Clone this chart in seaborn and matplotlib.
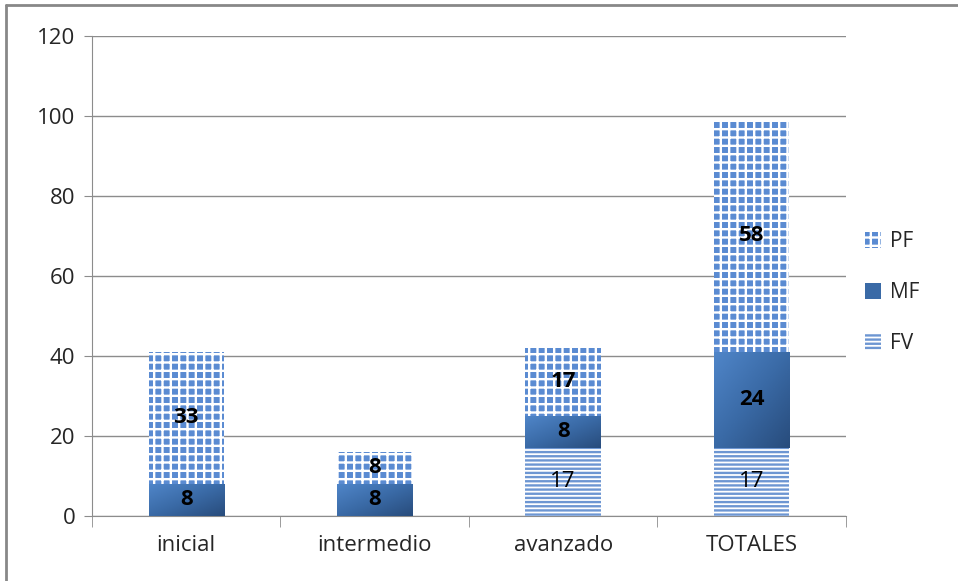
import numpy as np
import pandas as pd
import seaborn as sns
import matplotlib.pyplot as plt
from matplotlib.patches import Patch
from matplotlib.lines import Line2D
from matplotlib.colors import LinearSegmentedColormap

# data
niveles = ['inicial', 'intermedio', 'avanzado', 'TOTALES']
fv = [0, 0, 17, 17]
mf = [8, 8, 8, 24]
pf = [33, 8, 17, 58]

df = pd.DataFrame({'nivel': niveles, 'FV': fv, 'MF': mf, 'PF': pf})
df['FV_MF'] = df['FV'] + df['MF']
df['total'] = df['FV_MF'] + df['PF']

sns.set_style('white')
plt.rcParams['font.family'] = ['Open Sans', 'DejaVu Sans']
plt.rcParams['hatch.linewidth'] = 1.7

fig = plt.figure(figsize=(9.58, 5.81), dpi=100)
ax = fig.add_axes([0.096, 0.112, 0.787, 0.826])

blue_pf = '#5a8bd2'
blue_mf = '#3a6aa6'
blue_fv = '#6d96d2'

# stacked bars drawn as overlapping cumulative totals
sns.barplot(data=df, x='nivel', y='total', color=blue_pf, saturation=1, width=0.4,
            hatch='++', edgecolor='white', linewidth=0, ax=ax, zorder=2)
sns.barplot(data=df, x='nivel', y='FV_MF', color=blue_mf, saturation=1, width=0.4,
            linewidth=0, ax=ax, zorder=3)
sns.barplot(data=df, x='nivel', y='FV', color='white', saturation=1, width=0.4,
            hatch='----', edgecolor=blue_fv, linewidth=0, ax=ax, zorder=4)

# gradient shading on the MF segments (light top-left, dark bottom-right)
grad = LinearSegmentedColormap.from_list('mf', ['#4f85c8', '#3a6aa6', '#284c7c'])
for bar, lo in zip(ax.containers[1], fv):
    x0 = bar.get_x()
    w = bar.get_width()
    top = bar.get_height()
    if top - lo <= 0:
        continue
    xx, yy = np.meshgrid(np.linspace(0, 1, 50), np.linspace(0, 1, 50))
    img = ax.imshow((xx + yy) / 2, cmap=grad, extent=[x0, x0 + w, lo, top],
                    aspect='auto', zorder=3.5, origin='upper')
    img.set_clip_path(bar)

# value labels
for i, row in df.iterrows():
    if row['FV'] > 0:
        ax.text(i, row['FV'] / 2, str(row['FV']), ha='center', va='center',
                fontsize=16, color='black', zorder=5)
    ax.text(i, row['FV'] + row['MF'] / 2, str(row['MF']), ha='center', va='center',
            fontsize=16, fontweight='bold', color='black', zorder=5)
    ax.text(i, row['FV_MF'] + row['PF'] / 2, str(row['PF']), ha='center', va='center',
            fontsize=16, fontweight='bold', color='black', zorder=5)

ax.set_ylim(0, 120)
ax.set_yticks(range(0, 121, 20))
ax.set_xlim(-0.5, 3.5)
ax.set_xlabel('')
ax.set_ylabel('')
ax.yaxis.grid(True, color='#8c8c8c', linewidth=1)
ax.set_axisbelow(True)
for s in ['top', 'right']:
    ax.spines[s].set_visible(False)
ax.spines['left'].set_color('#8c8c8c')
ax.spines['bottom'].set_color('#8c8c8c')
ax.tick_params(axis='y', labelsize=16, left=True, length=6, color='#8c8c8c', pad=6)
ax.tick_params(axis='x', labelsize=16, bottom=False, pad=10)

# category boundary ticks on the x axis
ax.set_xticks([-0.5, 0.5, 1.5, 2.5, 3.5], minor=True)
ax.tick_params(axis='x', which='minor', bottom=True, length=8, color='#8c8c8c')

handles = [
    Patch(facecolor=blue_pf, edgecolor='white', hatch='++', linewidth=0, label='PF'),
    Patch(facecolor=blue_mf, linewidth=0, label='MF'),
    Patch(facecolor='white', edgecolor=blue_fv, hatch='----', linewidth=0, label='FV'),
]
ax.legend(handles=handles, loc='center left', bbox_to_anchor=(1.0, 0.465), frameon=False,
          fontsize=15, handlelength=0.8, handleheight=0.8, labelspacing=1.45,
          handletextpad=0.4)

# outer chart border (top and left visible)
fig.add_artist(Line2D([0.006, 1.0], [0.991, 0.991], color='#888888', linewidth=2,
                      transform=fig.transFigure))
fig.add_artist(Line2D([0.006, 0.006], [0.0, 0.991], color='#888888', linewidth=2,
                      transform=fig.transFigure))

fig.savefig('out.png', dpi=100)
